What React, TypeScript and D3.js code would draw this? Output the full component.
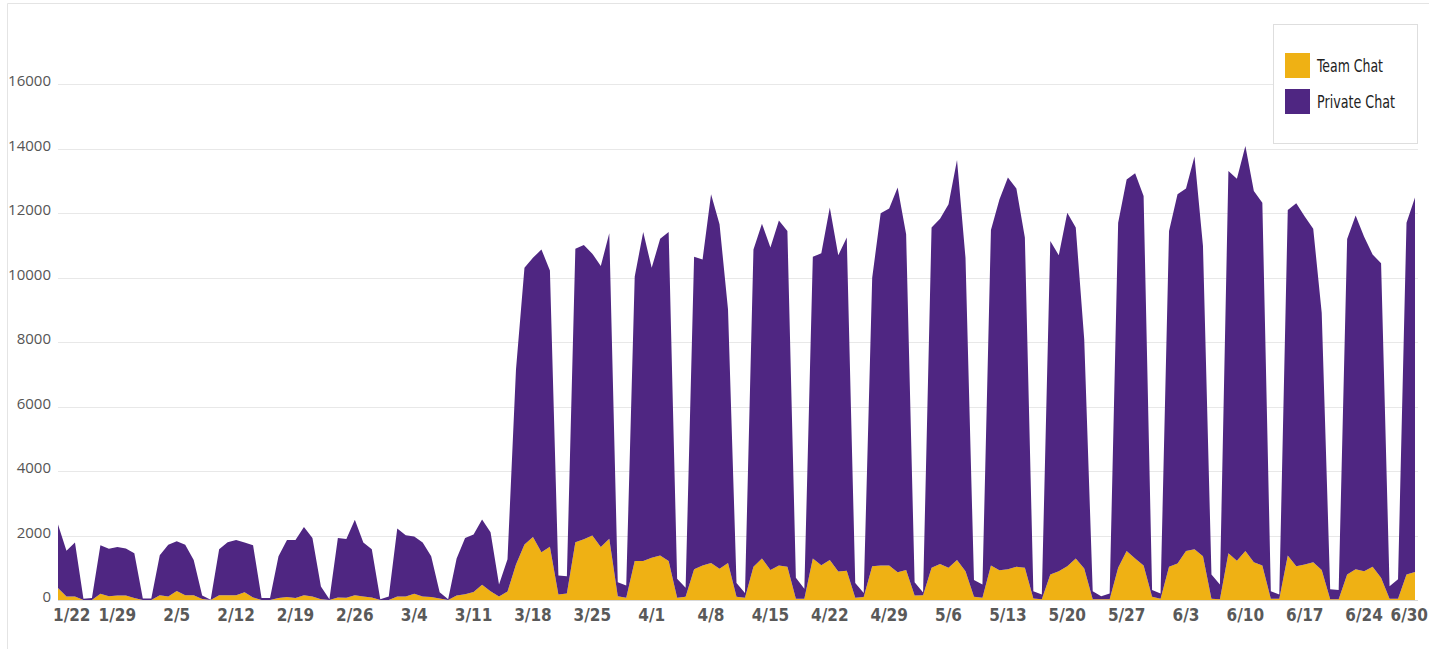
import { useEffect, useRef } from 'react';
import * as d3 from 'd3';

// daily data, 1/22 - 6/30 (one row per week)
const startDate = new Date(2020, 0, 22);
const endDate = new Date(2020, 5, 30);
const days = d3.timeDay.range(startDate, d3.timeDay.offset(endDate, 1));

const teamChat = [
  370, 110, 110, 0, 0, 190, 120,
  140, 140, 60, 0, 0, 150, 110,
  280, 150, 150, 30, 0, 150, 150,
  150, 240, 80, 0, 0, 60, 90,
  60, 150, 110, 20, 0, 80, 70,
  150, 110, 80, 0, 0, 110, 110,
  190, 110, 90, 50, 0, 140, 180,
  250, 470, 270, 110, 260, 1100, 1720,
  1950, 1480, 1650, 170, 200, 1790, 1880,
  2000, 1640, 1900, 120, 70, 1210, 1210,
  1310, 1380, 1210, 70, 100, 950, 1070,
  1150, 970, 1150, 100, 70, 1030, 1290,
  930, 1070, 1030, 40, 40, 1290, 1080,
  1240, 880, 910, 70, 90, 1050, 1070,
  1070, 860, 930, 140, 150, 1000, 1120,
  1000, 1240, 890, 100, 70, 1070, 920,
  950, 1030, 1000, 50, 20, 790, 890,
  1050, 1290, 980, 20, 20, 20, 1000,
  1520, 1290, 1070, 100, 40, 1030, 1130,
  1520, 1570, 1360, 40, 20, 1450, 1220,
  1520, 1170, 1070, 40, 40, 1380, 1050,
  1100, 1170, 930, 20, 20, 790, 950,
  890, 1030, 690, 40, 40, 790, 870,
];

const privateChat = [
  1970, 1420, 1670, 40, 60, 1510, 1470,
  1500, 1460, 1390, 50, 50, 1240, 1600,
  1540, 1560, 1090, 110, 10, 1420, 1640,
  1710, 1540, 1620, 60, 60, 1300, 1770,
  1800, 2110, 1810, 400, 20, 1840, 1820,
  2340, 1670, 1490, 20, 110, 2110, 1900,
  1780, 1670, 1270, 190, 20, 1150, 1740,
  1780, 2030, 1830, 370, 1000, 6050, 8580,
  8660, 9390, 8570, 590, 540, 9100, 9130,
  8740, 8720, 9470, 430, 380, 8820, 10200,
  8990, 9820, 10200, 590, 280, 9690, 9490,
  11430, 10680, 7860, 430, 150, 9840, 10380,
  10000, 10700, 10410, 650, 310, 9350, 9670,
  10930, 9810, 10330, 460, 130, 8940, 10920,
  11070, 11930, 10410, 410, 80, 10550, 10700,
  11270, 12400, 9720, 520, 410, 10400, 11500,
  12150, 11730, 10240, 220, 150, 10340, 9800,
  10960, 10260, 7100, 250, 100, 180, 10700,
  11520, 11940, 11460, 210, 160, 10410, 11450,
  11240, 12180, 9620, 750, 460, 11850, 11840,
  12560, 11510, 11250, 230, 130, 10710, 11250,
  10790, 10340, 7980, 310, 290, 10400, 10970,
  10370, 9680, 9750, 390, 600, 10910, 11610,
];

const xTickLabels = [
  '1/22', '1/29', '2/5', '2/12', '2/19', '2/26', '3/4', '3/11', '3/18', '3/25',
  '4/1', '4/8', '4/15', '4/22', '4/29', '5/6', '5/13', '5/20', '5/27', '6/3',
  '6/10', '6/17', '6/24', '6/30',
];
const yTicks = [0, 2000, 4000, 6000, 8000, 10000, 12000, 14000, 16000];

const seriesKeys = ['team', 'private'];
const seriesNames = ['Team Chat', 'Private Chat'];
const seriesColors = ['#EFB114', '#4F2682'];
const legendTextWidths = [66, 78];

export default function App() {
  const svgRef = useRef<SVGSVGElement>(null);

  useEffect(() => {
    const svg = d3.select(svgRef.current);
    svg.selectAll('*').remove();

    const width = 1429;
    const height = 649;

    const rows = days.map((d, i) => ({ date: d, team: teamChat[i], private: privateChat[i] }));

    const x = d3.scaleTime().domain([startDate, endDate]).range([58, 1415]);
    const y = d3.scaleLinear().domain([0, 16000]).range([600, 84]);

    svg.append('rect').attr('width', width).attr('height', height).attr('fill', '#fff');

    // card border (top + left)
    svg.append('path')
      .attr('d', `M7.5,${height} V3.5 H${width}`)
      .attr('fill', 'none')
      .attr('stroke', '#e4e4e4');

    // grid lines
    svg.selectAll('.grid')
      .data(yTicks)
      .enter().append('line')
      .attr('x1', 58)
      .attr('x2', 1418)
      .attr('y1', d => Math.round(y(d)) + 0.5)
      .attr('y2', d => Math.round(y(d)) + 0.5)
      .attr('stroke', d => (d === 0 ? '#d8d8d8' : '#e8e8e8'))
      .attr('stroke-width', 1);

    // stacked areas
    const stack = d3.stack<any>().keys(seriesKeys);
    const layers = stack(rows);

    const area = d3.area<any>()
      .x(d => x(d.data.date))
      .y0(d => y(d[0]))
      .y1(d => y(d[1]));

    svg.selectAll('.layer')
      .data(layers)
      .enter().append('path')
      .attr('d', d => area(d))
      .attr('fill', (d, i) => seriesColors[i]);

    // y axis labels
    svg.selectAll('.ylabel')
      .data(yTicks)
      .enter().append('text')
      .attr('x', 51)
      .attr('y', d => y(d) + 2)
      .attr('text-anchor', 'end')
      .style('font-family', '"Open Sans", "DejaVu Sans", sans-serif')
      .style('font-size', '15px')
      .style('fill', '#555')
      .text(d => d);

    // x axis labels (first and last kept inside the frame)
    const parse = d3.timeParse('%m/%d/%Y');
    const last = xTickLabels.length - 1;
    svg.selectAll('.xlabel')
      .data(xTickLabels)
      .enter().append('text')
      .attr('x', (d, i) => (i === 0 ? 53 : i === last ? 1428 : x(parse(d + '/2020')!)))
      .attr('y', 621)
      .attr('text-anchor', (d, i) => (i === 0 ? 'start' : i === last ? 'end' : 'middle'))
      .style('font-family', '"Liberation Sans Narrow", "DejaVu Sans Condensed", sans-serif')
      .style('font-size', '17px')
      .style('font-weight', 'bold')
      .style('fill', '#595959')
      .text(d => d);

    // legend
    const legend = svg.append('g');
    legend.append('rect')
      .attr('x', 1273.5)
      .attr('y', 24.5)
      .attr('width', 144)
      .attr('height', 119)
      .attr('fill', '#fff')
      .attr('stroke', '#dedede');

    seriesNames.forEach((name, i) => {
      legend.append('rect')
        .attr('x', 1285)
        .attr('y', 53 + i * 36)
        .attr('width', 25)
        .attr('height', 25)
        .attr('fill', seriesColors[i]);
      legend.append('text')
        .attr('x', 1317)
        .attr('y', 72 + i * 36)
        .attr('textLength', legendTextWidths[i])
        .attr('lengthAdjust', 'spacingAndGlyphs')
        .style('font-family', '"Liberation Sans Narrow", "DejaVu Sans Condensed", sans-serif')
        .style('font-size', '17px')
        .style('fill', '#222')
        .text(name);
    });
  }, []);

  return (
    <svg
      ref={svgRef}
      width={1429}
      height={649}
      style={{ position: 'absolute', left: 0, top: 0, display: 'block' }}
    />
  );
}
